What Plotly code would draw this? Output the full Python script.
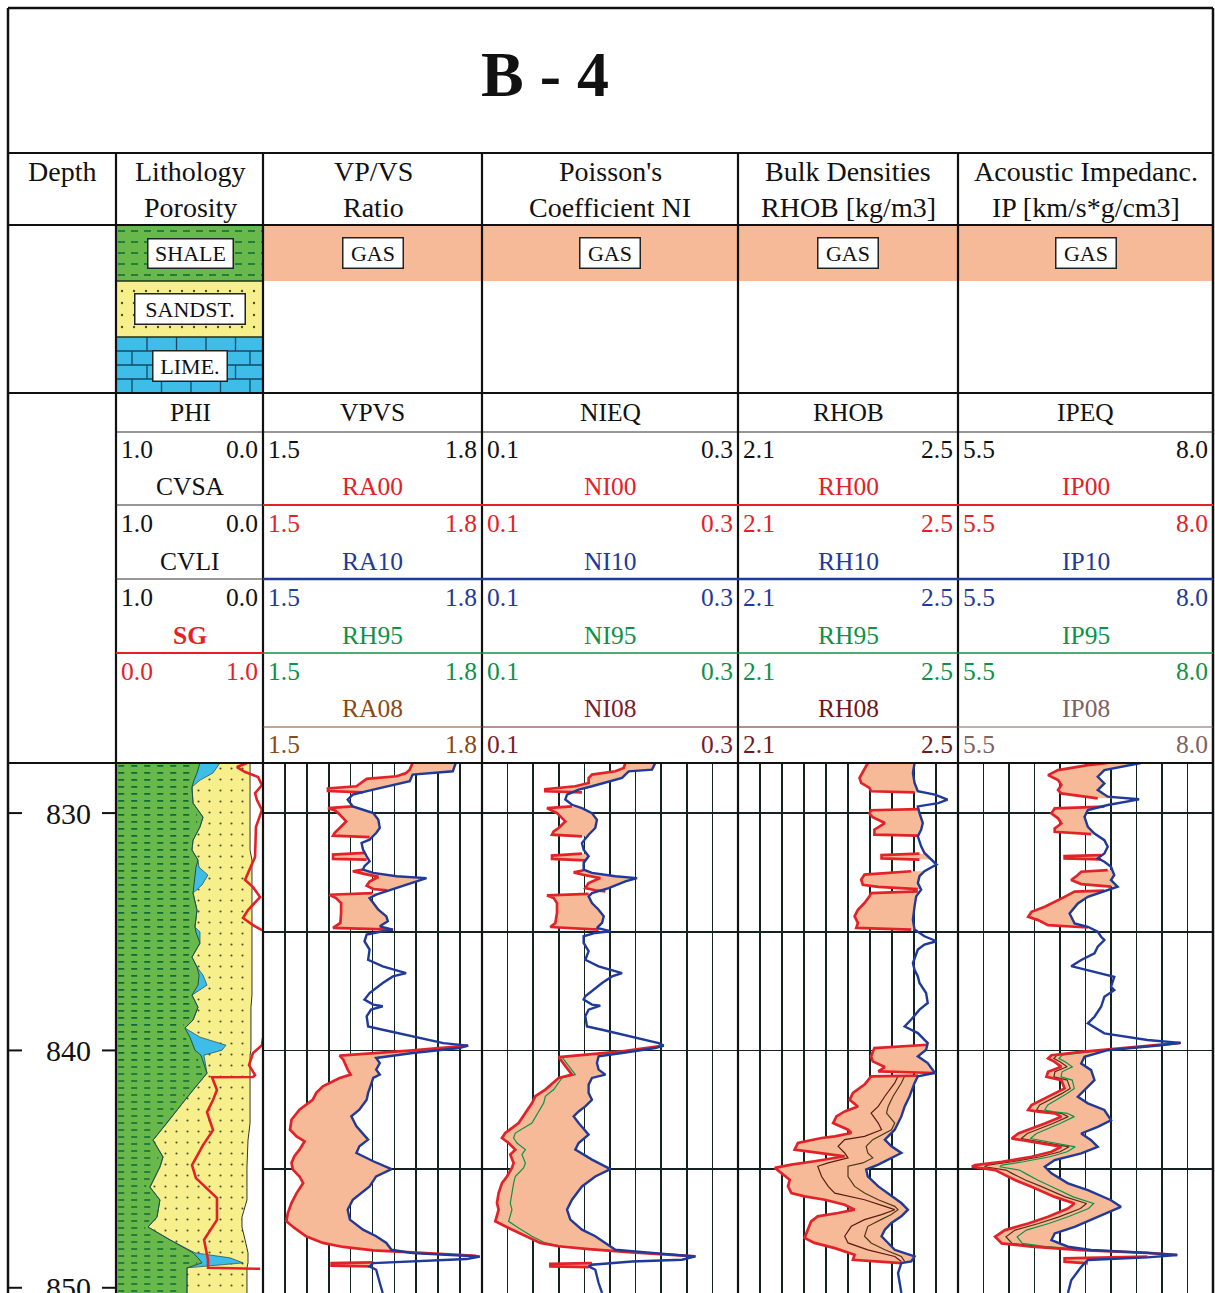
import numpy as np
import plotly.graph_objects as go

W, H = 1215, 1293
D_TOP, D_BOT = 827.89, 850.22
SERIF = "Liberation Serif, Times New Roman, serif"

# ------------------------------------------------------------------ DATA
DEPTH_LABELS = [830, 840, 850]
GRID_DEPTHS = [830, 835, 840, 845]

# Lithology (volumes) ------------------------------------------------
LITH_DEPTH = [827.89, 828.31, 828.61, 828.90, 829.58, 830.17, 830.59, 831.14, 831.56, 831.98,
              832.28, 832.61, 833.03, 833.37, 834.09, 834.80, 835.01, 835.48, 836.07, 836.49,
              836.83, 837.25, 837.67, 838.18, 838.72, 839.06, 839.44, 839.78, 839.99, 840.20,
              840.96, 841.67, 842.09, 843.06, 843.78, 844.49, 844.91, 845.76, 846.30, 847.02,
              847.44, 847.98, 848.53, 848.74, 848.95, 849.16, 849.67, 850.22]
VSH = [0.571, 0.551, 0.531, 0.517, 0.524, 0.592, 0.571, 0.524, 0.517, 0.558,
       0.544, 0.537, 0.531, 0.524, 0.551, 0.537, 0.544, 0.571, 0.517, 0.551,
       0.565, 0.558, 0.517, 0.558, 0.524, 0.469, 0.503, 0.524, 0.537, 0.578,
       0.619, 0.524, 0.469, 0.347, 0.252, 0.320, 0.299, 0.231, 0.299, 0.279,
       0.218, 0.367, 0.524, 0.558, 0.585, 0.483, 0.483, 0.483]
VLI = [0.136, 0.109, 0.041, 0, 0, 0, 0, 0, 0, 0,
       0.020, 0.088, 0.054, 0, 0, 0, 0.027, 0, 0, 0,
       0.027, 0.061, 0, 0, 0, 0, 0.068, 0.224, 0.184, 0.020,
       0, 0, 0, 0, 0, 0, 0, 0, 0, 0,
       0, 0, 0.014, 0.218, 0.279, 0, 0, 0]
PHI = [0.088, 0.088, 0.088, 0.088, 0.088, 0.088, 0.088, 0.088, 0.088, 0.075,
       0.075, 0.075, 0.075, 0.075, 0.075, 0.075, 0.075, 0.075, 0.075, 0.075,
       0.075, 0.075, 0.075, 0.082, 0.082, 0.082, 0.082, 0.082, 0.082, 0.088,
       0.088, 0.088, 0.088, 0.088, 0.102, 0.109, 0.109, 0.109, 0.109, 0.143,
       0.143, 0.122, 0.102, 0.102, 0.102, 0.109, 0.109, 0.109]
SG_DEPTH = [827.89, 828.06, 828.27, 828.48, 828.82, 829.16, 829.45, 829.87, 830.59, 831.85,
            832.53, 832.82, 833.12, 833.54, 834.09, 834.42, 834.72, 834.93, None,
            839.48, 839.78, 840.11, 840.62, 841.04, 841.12, 841.13, 841.67, 842.09, 842.60,
            843.36, 843.99, 844.83, 845.38, 846.22, 847.14, 847.98, 848.82, 849.16, 849.20]
SG = [0.891, 0.823, 0.878, 0.966, 0.993, 0.946, 0.959, 0.993, 0.952, 0.946,
      0.898, 0.878, 0.932, 0.980, 0.898, 0.864, 0.932, 0.993, None,
      1.0, 0.993, 0.932, 0.905, 0.946, 0.932, 0.653, 0.687, 0.660, 0.619,
      0.660, 0.592, 0.517, 0.544, 0.687, 0.687, 0.599, 0.626, 0.626, 0.980]

# VP/VS ratio ---------------------------------------------------------
VPVS_D = [827.89, 828.24, 828.38, 828.66, 829.01, 829.22, 829.43, 829.72, 829.86, 830.00,
          830.28, 830.63, 830.84, 831.12, 831.26, 831.54, 831.82, 832.03, 832.24, 832.38,
          832.52, 832.66, 832.74, 832.88, 833.16, 833.44, 833.58, 833.79, 834.07, 834.35,
          834.56, 834.77, 834.91, 834.98, 835.12, 835.40, 835.75, 836.18, 836.46, 836.74,
          836.88, 837.16, 837.58, 837.86, 838.07, 838.14, 838.28, 838.56, 838.99, 839.13,
          839.41, 839.69, 839.80, 839.90, 840.11, 840.32, 840.53, 840.81, 841.02, 841.16,
          841.44, 841.79, 842.08, 842.50, 842.78, 843.20, 843.76, 844.04, 844.32, 844.67,
          845.00, 845.31, 845.73, 846.29, 846.71, 847.13, 847.55, 847.83, 848.11, 848.40,
          848.54, 848.61, 848.68, 848.79, 848.89, 848.96, 849.10, 849.24, 849.80, 850.22]
RA10 = [1.764, 1.760, 1.705, 1.701, 1.651, 1.623, 1.616, 1.623, 1.637, 1.651,
        1.658, 1.660, 1.655, 1.646, 1.635, 1.637, 1.642, 1.646, 1.639, 1.637,
        1.651, 1.683, 1.724, 1.710, 1.683, 1.655, 1.646, 1.651, 1.658, 1.669,
        1.671, 1.660, 1.678, 1.664, 1.642, 1.639, 1.646, 1.644, 1.664, 1.696,
        1.678, 1.664, 1.646, 1.639, 1.651, 1.664, 1.648, 1.642, 1.644, 1.664,
        1.705, 1.747, 1.781, 1.769, 1.705, 1.655, 1.660, 1.655, 1.660, 1.651,
        1.648, 1.644, 1.642, 1.632, 1.621, 1.628, 1.644, 1.632, 1.628, 1.651,
        1.676, 1.655, 1.646, 1.623, 1.616, 1.619, 1.637, 1.655, 1.669, 1.676,
        1.705, 1.747, 1.797, 1.779, 1.705, 1.651, 1.646, 1.655, 1.660, 1.664]
VPVS_GAS_D = [827.89, 828.17, 828.31, 828.45, 828.56, 828.73, 828.87, 828.96, 829.07, 829.13, None,
              829.72, 829.79, 829.88, 830.00, 830.35, 830.63, 830.84, 830.95, 831.01, None,
              831.68, 831.75, 831.93, 831.96, None,
              832.38, 832.45, 832.55, 832.69, 832.88, 833.06, 833.20, 833.26, None,
              833.37, 833.44, 833.58, 833.79, 834.21, 834.63, 834.84, 834.91, None,
              839.80, 840.00, 840.22, 840.39, 840.81, 841.02, 841.16, 841.51, 841.79, 842.08,
              842.50, 842.92, 843.34, 843.62, 843.83, 844.18, 844.46, 844.74, 845.02, 845.31,
              845.59, 846.01, 846.43, 846.85, 847.20, 847.48, 847.83, 848.11, 848.28, 848.42,
              848.51, 848.65, None,
              848.93, 848.96, 849.07, 849.10]
RA00 = [1.705, 1.701, 1.696, 1.683, 1.642, 1.635, 1.628, 1.589, 1.589, 1.637, None,
        1.623, 1.589, 1.598, 1.603, 1.614, 1.605, 1.598, 1.596, 1.646, None,
        1.640, 1.596, 1.596, 1.642, None,
        1.637, 1.623, 1.637, 1.658, 1.646, 1.642, 1.651, 1.670, None,
        1.650, 1.591, 1.600, 1.607, 1.607, 1.606, 1.596, 1.678, None,
        1.781, 1.705, 1.605, 1.610, 1.616, 1.620, 1.605, 1.582, 1.573, 1.568,
        1.550, 1.539, 1.537, 1.546, 1.557, 1.550, 1.543, 1.539, 1.541, 1.550,
        1.555, 1.546, 1.539, 1.534, 1.532, 1.543, 1.559, 1.582, 1.610, 1.651,
        1.705, 1.792, None,
        1.651, 1.594, 1.594, 1.646]

# Poisson's coefficient ------------------------------------------------
NI_D = [827.89, 828.17, 828.24, 828.52, 828.87, 829.01, 829.22, 829.43, 829.65, 829.79,
        830.00, 830.28, 830.63, 830.91, 831.26, 831.54, 831.82, 832.10, 832.38, 832.52,
        832.66, 832.74, 832.88, 833.16, 833.37, 833.51, 833.79, 834.07, 834.35, 834.63,
        834.84, 834.98, 835.05, 835.19, 835.47, 835.82, 836.18, 836.46, 836.74, 836.88,
        837.16, 837.72, 837.86, 838.07, 838.11, 838.28, 838.56, 838.99, 839.13, 839.41,
        839.69, 839.80, 839.90, 840.11, 840.25, 840.53, 840.81, 841.02, 841.16, 841.44,
        841.79, 842.08, 842.36, 842.57, 842.78, 843.06, 843.55, 843.90, 844.18, 844.60,
        845.00, 845.31, 845.73, 846.29, 846.71, 847.13, 847.55, 847.83, 848.18, 848.40,
        848.54, 848.68, 848.82, 848.89, 849.03, 849.10, 849.24, 849.80, 850.22]
NI10 = [0.2354, 0.2328, 0.2146, 0.2094, 0.1859, 0.1755, 0.1664, 0.1651, 0.1703, 0.1781,
        0.1859, 0.1898, 0.1885, 0.1833, 0.1781, 0.1794, 0.1833, 0.1794, 0.1794, 0.1859,
        0.2042, 0.2211, 0.2120, 0.1990, 0.1859, 0.1833, 0.1859, 0.1911, 0.1951, 0.1938,
        0.1898, 0.2003, 0.1885, 0.1794, 0.1794, 0.1833, 0.1807, 0.1911, 0.2094, 0.2016,
        0.1938, 0.1807, 0.1794, 0.1859, 0.1924, 0.1833, 0.1807, 0.1820, 0.1938, 0.2172,
        0.2380, 0.2419, 0.2354, 0.2094, 0.1911, 0.1898, 0.1911, 0.1964, 0.1859, 0.1833,
        0.1833, 0.1859, 0.1807, 0.1755, 0.1716, 0.1755, 0.1833, 0.1755, 0.1729, 0.1859,
        0.2003, 0.1885, 0.1781, 0.1703, 0.1664, 0.1690, 0.1781, 0.1885, 0.1977, 0.2042,
        0.2354, 0.2667, 0.2563, 0.2172, 0.1859, 0.1833, 0.1885, 0.1911, 0.1938]
NI_GAS_D = [827.89, 828.10, 828.24, 828.38, 828.52, 828.73, 828.87, 828.99, 829.08, 829.13, None,
            829.72, 829.79, 829.93, 830.00, 830.35, 830.63, 830.77, 830.91, 830.98, None,
            831.71, 831.79, 831.93, 831.99, None,
            832.41, 832.50, 832.59, 832.74, 832.95, 833.16, 833.25, 833.30, None,
            833.40, 833.47, 833.58, 833.79, 834.21, 834.63, 834.80, 834.91, None,
            839.80, 840.04, 840.28, 840.46, 840.81, 841.02, 841.16, 841.65, 841.93, 842.22,
            843.06, 843.48, 843.69, 843.90, 844.18, 844.39, 844.74, 844.95, 845.31, 845.59,
            846.01, 846.43, 846.71, 847.20, 847.48, 847.83, 848.11, 848.25, 848.37, 848.51,
            848.68, None,
            848.96, 848.99, 849.10, 849.13]
NI00 = [0.2120, 0.2107, 0.2042, 0.1859, 0.1833, 0.1833, 0.1729, 0.1495, 0.1495, 0.1781, None,
        0.1703, 0.1508, 0.1560, 0.1586, 0.1651, 0.1599, 0.1560, 0.1547, 0.1781, None,
        0.1781, 0.1547, 0.1547, 0.1807, None,
        0.1794, 0.1716, 0.1781, 0.1924, 0.1833, 0.1807, 0.1885, 0.1964, None,
        0.1833, 0.1508, 0.1560, 0.1586, 0.1586, 0.1573, 0.1534, 0.1911, None,
        0.2419, 0.2094, 0.1599, 0.1625, 0.1677, 0.1703, 0.1599, 0.1495, 0.1417, 0.1391,
        0.1286, 0.1182, 0.1156, 0.1208, 0.1260, 0.1221, 0.1247, 0.1234, 0.1195, 0.1156,
        0.1130, 0.1117, 0.1130, 0.1104, 0.1208, 0.1339, 0.1456, 0.1599, 0.1833, 0.2172,
        0.2667, None,
        0.1859, 0.1534, 0.1534, 0.1833]
NI95_D = [839.80, 840.04, 840.28, 840.46, 840.81, 841.02, 841.16, 841.65, 841.93, 842.22,
          843.06, 843.48, 843.69, 843.90, 844.18, 844.39, 844.74, 844.95, 845.31, 845.59,
          846.01, 846.43, 846.71, 847.20, 847.48, 847.83, 848.11, 848.25, 848.37, 848.51,
          848.68]
NI95 = [0.2419, 0.2094, 0.1625, 0.1651, 0.1703, 0.1729, 0.1625, 0.1560, 0.1495, 0.1482,
        0.1390, 0.1260, 0.1247, 0.1273, 0.1339, 0.1312, 0.1339, 0.1325, 0.1260, 0.1247,
        0.1234, 0.1221, 0.1234, 0.1208, 0.1286, 0.1390, 0.1495, 0.1625, 0.1846, 0.2172,
        0.2667]

# Bulk density --------------------------------------------------------
RH_D = [827.89, 828.31, 828.73, 829.08, 829.22, 829.43, 829.58, 829.72, 830.00, 830.42,
        830.70, 830.98, 831.40, 831.68, 832.17, 832.45, 832.66, 832.95, 833.23, 833.51,
        833.93, 834.49, 834.91, 835.19, 835.40, 835.54, 835.75, 836.32, 836.60, 836.88,
        837.16, 837.58, 838.00, 838.28, 838.70, 838.99, 839.27, 839.69, 839.97, 840.25,
        840.53, 840.95, 841.09, 841.37, 841.93, 842.36, 842.78, 843.34, 843.76, 844.04,
        844.32, 844.60, 844.81, 845.02, 845.31, 845.73, 846.15, 846.43, 846.71, 846.99,
        847.27, 847.55, 847.83, 848.11, 848.40, 848.54, 848.68, 848.89, 848.96, 849.38,
        850.22]
RH10 = [2.421, 2.418, 2.421, 2.427, 2.458, 2.481, 2.464, 2.427, 2.430, 2.436,
        2.433, 2.427, 2.433, 2.439, 2.461, 2.439, 2.430, 2.427, 2.433, 2.424,
        2.421, 2.418, 2.421, 2.439, 2.461, 2.439, 2.427, 2.418, 2.421, 2.427,
        2.430, 2.442, 2.445, 2.430, 2.415, 2.403, 2.427, 2.445, 2.442, 2.427,
        2.445, 2.458, 2.427, 2.421, 2.412, 2.403, 2.397, 2.385, 2.367, 2.379,
        2.397, 2.373, 2.355, 2.333, 2.336, 2.355, 2.379, 2.397, 2.409, 2.397,
        2.379, 2.367, 2.361, 2.373, 2.385, 2.403, 2.421, 2.415, 2.397, 2.391,
        2.397]
RH_GAS_D = [827.89, 828.17, 828.52, 828.73, 828.94, 829.08, 829.13, None,
            829.83, 829.88, 830.02, 830.17, 830.42, 830.70, 830.91, 830.95, None,
            831.71, 831.77, 831.91, 831.96, None,
            832.45, 832.59, 832.81, 833.02, 833.11, 833.20, None,
            833.30, 833.37, 833.51, 833.79, 834.07, 834.35, 834.63, 834.84, 834.91, None,
            839.76, 839.90, 840.25, 840.46, 840.70, 840.88, 840.95, None,
            841.06, 841.09, 841.44, 841.79, 842.08, 842.36, 842.57, 842.78, 843.06, 843.34,
            843.48, 843.62, 843.69, 843.90, 844.18, 844.32, 844.46, 844.67, 844.81, 844.95,
            845.16, 845.45, 845.73, 846.01, 846.15, 846.29, 846.50, 846.71, 846.85, 846.99,
            847.20, 847.55, 847.90, 848.11, 848.33, 848.61, 848.82, 848.96]
RH00 = [2.336, 2.330, 2.321, 2.324, 2.339, 2.342, 2.421, None,
        2.427, 2.342, 2.339, 2.345, 2.367, 2.348, 2.348, 2.427, None,
        2.430, 2.361, 2.361, 2.430, None,
        2.415, 2.330, 2.324, 2.327, 2.355, 2.427, None,
        2.427, 2.342, 2.339, 2.330, 2.318, 2.312, 2.318, 2.315, 2.415, None,
        2.445, 2.348, 2.342, 2.345, 2.367, 2.355, 2.458, None,
        2.427, 2.342, 2.330, 2.309, 2.303, 2.318, 2.294, 2.279, 2.273, 2.300,
        2.306, 2.276, 2.252, 2.209, 2.203, 2.252, 2.294, 2.239, 2.197, 2.167,
        2.179, 2.194, 2.191, 2.197, 2.221, 2.258, 2.294, 2.312, 2.282, 2.245,
        2.233, 2.227, 2.221, 2.239, 2.276, 2.312, 2.309, 2.397]
RH_IN_D = [841.08, 841.37, 841.93, 842.36, 842.64, 843.06, 843.34, 843.62, 843.76, 844.04,
           844.32, 844.53, 844.74, 844.88, 845.31, 845.73, 846.01, 846.29, 846.57, 846.71,
           846.92, 847.13, 847.41, 847.83, 848.11, 848.40, 848.68, 848.89]
RH08 = [2.391, 2.385, 2.367, 2.355, 2.342, 2.355, 2.361, 2.330, 2.294, 2.282,
        2.294, 2.300, 2.264, 2.245, 2.252, 2.264, 2.276, 2.330, 2.367, 2.385,
        2.361, 2.330, 2.306, 2.294, 2.300, 2.336, 2.385, 2.397]
RH95 = [2.403, 2.397, 2.382, 2.373, 2.370, 2.385, 2.379, 2.355, 2.345, 2.333,
        2.336, 2.345, 2.327, 2.300, 2.300, 2.312, 2.330, 2.355, 2.385, 2.391,
        2.378, 2.360, 2.336, 2.330, 2.342, 2.367, 2.397, 2.403]

# Acoustic impedance --------------------------------------------------
IP_D = [827.89, 828.19, 828.47, 828.75, 829.03, 829.31, 829.42, 829.66, 829.87, 830.16,
        830.58, 830.86, 831.14, 831.42, 831.70, 831.91, 832.05, 832.26, 832.61, 832.82,
        833.10, 833.25, 833.53, 833.81, 834.23, 834.65, 834.79, 835.00, 835.21, 835.35,
        835.63, 835.91, 836.19, 836.45, 836.62, 836.90, 837.32, 837.46, 837.74, 838.16,
        838.58, 838.86, 839.28, 839.56, 839.68, 839.78, 839.99, 840.27, 840.55, 840.83,
        841.25, 841.67, 841.95, 842.23, 842.51, 842.94, 843.22, 843.50, 843.78, 844.06,
        844.34, 844.62, 844.90, 845.18, 845.60, 845.89, 846.31, 846.59, 847.01, 847.43,
        847.71, 847.99, 848.27, 848.41, 848.53, 848.62, 848.72, 848.83, 849.12, 849.68,
        850.22]
IP10 = [7.292, 6.935, 6.870, 6.935, 6.870, 6.968, 7.276, 6.968, 6.773, 6.740,
        6.773, 6.838, 6.935, 6.968, 6.935, 6.870, 6.935, 7.000, 7.032, 7.000,
        7.065, 6.968, 6.773, 6.675, 6.594, 6.643, 6.773, 6.870, 6.903, 6.935,
        6.870, 6.838, 6.708, 6.610, 6.773, 7.032, 7.000, 7.032, 6.935, 6.903,
        6.838, 6.773, 6.935, 7.357, 7.682, 7.487, 6.968, 6.740, 6.708, 6.805,
        6.838, 6.740, 6.675, 6.773, 6.935, 7.000, 6.870, 6.708, 6.805, 6.870,
        6.708, 6.448, 6.351, 6.416, 6.578, 6.773, 7.000, 7.097, 6.870, 6.643,
        6.448, 6.416, 6.578, 6.805, 7.357, 7.649, 7.357, 6.773, 6.708, 6.610,
        6.578]
IP_GAS_D = [827.89, 827.98, 828.19, 828.40, 828.61, 828.82, 829.03, 829.17, 829.38, None,
            829.73, 829.80, 830.01, 830.22, 830.44, 830.65, 830.79, 830.89, None,
            831.77, 831.81, 831.91, 831.95, None,
            832.40, 832.47, 832.61, 832.82, 832.99, 833.10, None,
            833.27, 833.31, 833.53, 833.74, 833.95, 834.16, 834.37, 834.51, 834.72, 834.79, 834.82, None,
            839.68, 839.85, 840.06, 840.20, 840.34, 840.48, 840.69, 840.90, 841.11, 841.25,
            841.60, 841.81, 842.30, 842.51, 842.58, 842.65, 842.79, 843.08, 843.50, 843.71,
            843.78, 843.92, 844.06, 844.27, 844.48, 844.69, 844.83, 844.90, 845.04, 845.18,
            845.46, 845.74, 846.17, 846.45, 846.66, 847.01, 847.29, 847.57, 847.85, 848.13,
            848.27, 848.41, 848.53, 848.62, None,
            848.69, 848.76, 848.90, 848.97]
IP00 = [6.968, 6.773, 6.481, 6.383, 6.481, 6.513, 6.481, 6.513, 6.870, None,
        6.935, 6.448, 6.416, 6.481, 6.513, 6.448, 6.448, 6.805, None,
        6.903, 6.545, 6.545, 6.903, None,
        6.968, 6.708, 6.675, 6.610, 6.708, 7.000, None,
        6.935, 6.643, 6.545, 6.448, 6.351, 6.221, 6.188, 6.286, 6.383, 6.643, 6.773, None,
        7.682, 7.227, 6.708, 6.416, 6.383, 6.448, 6.513, 6.383, 6.367, 6.513,
        6.545, 6.448, 6.221, 6.188, 6.286, 6.448, 6.513, 6.351, 6.091, 6.026,
        6.123, 6.351, 6.513, 6.416, 6.221, 5.929, 5.669, 5.636, 5.864, 5.929,
        6.058, 6.221, 6.448, 6.643, 6.578, 6.383, 6.188, 5.961, 5.864, 5.929,
        6.221, 6.708, 7.357, 7.649, None,
        7.357, 6.545, 6.545, 6.773]
IP_IN_D = [839.68, 839.85, 840.06, 840.20, 840.34, 840.48, 840.69, 840.90, 841.11, 841.25,
           841.60, 841.81, 842.30, 842.51, 842.58, 842.65, 842.79, 843.08, 843.50, 843.71,
           843.78, 843.92, 844.06, 844.27, 844.48, 844.69, 844.83, 844.90, 845.04, 845.18,
           845.46, 845.74, 846.17, 846.45, 846.66, 847.01, 847.29, 847.57, 847.85, 848.13,
           848.27, 848.41, 848.53, 848.62]
IP08 = [7.682, 7.25, 6.75, 6.47, 6.44, 6.50, 6.57, 6.45, 6.44, 6.57,
        6.60, 6.52, 6.30, 6.27, 6.36, 6.51, 6.58, 6.43, 6.18, 6.12,
        6.21, 6.43, 6.59, 6.50, 6.31, 6.03, 5.79, 5.76, 5.97, 6.03,
        6.16, 6.32, 6.55, 6.76, 6.70, 6.49, 6.29, 6.06, 5.97, 6.03,
        6.30, 6.75, 7.357, 7.649]
IP95 = [7.682, 7.27, 6.78, 6.52, 6.49, 6.55, 6.62, 6.52, 6.51, 6.62,
        6.64, 6.57, 6.38, 6.35, 6.43, 6.57, 6.64, 6.50, 6.27, 6.21,
        6.30, 6.50, 6.65, 6.57, 6.40, 6.14, 5.93, 5.91, 6.10, 6.16,
        6.28, 6.42, 6.63, 6.83, 6.78, 6.58, 6.39, 6.17, 6.08, 6.13,
        6.38, 6.78, 7.357, 7.649]

# ------------------------------------------------------------------ STYLE
RED = "#E32228"
BLUE = "#1F3A9A"
GREEN = "#0E9246"
ORANGE = "#F7BA98"
SHALE_GREEN = "#68B84C"
DASH_GREEN = "#0E6B34"
SAND_YELLOW = "#F6EF8C"
LIME_BLUE = "#3DBDE8"
INK = "#111111"
GRID = "#142222"

COLS = [8, 116, 263, 482, 738, 958, 1213]
PLOT_TOP = 763


def PX(x):
    return x / W


def PY(y):
    return 1 - y / H


TRACKS = [
    dict(xa="x4", x0=263, x1=482, rng=(1.5, 1.8), group="VPVS", nums=("1.5", "1.8"),
         names=["RA00", "RA10", "RH95", "RA08"], c08="#8A4A16",
         blue=(VPVS_D, RA10), red=(VPVS_GAS_D, RA00), inner=[]),
    dict(xa="x5", x0=482, x1=738, rng=(0.1, 0.3), group="NIEQ", nums=("0.1", "0.3"),
         names=["NI00", "NI10", "NI95", "NI08"], c08="#7A1C2C",
         blue=(NI_D, NI10), red=(NI_GAS_D, NI00), inner=[(NI95_D, NI95, GREEN)]),
    dict(xa="x6", x0=738, x1=958, rng=(2.1, 2.5), group="RHOB", nums=("2.1", "2.5"),
         names=["RH00", "RH10", "RH95", "RH08"], c08="#6E1A1A",
         blue=(RH_D, RH10), red=(RH_GAS_D, RH00),
         inner=[(RH_IN_D, RH08, "#5C1A14"), (RH_IN_D, RH95, "#4A3A18")]),
    dict(xa="x7", x0=958, x1=1213, rng=(5.5, 8.0), group="IPEQ", nums=("5.5", "8.0"),
         names=["IP00", "IP10", "IP95", "IP08"], c08="#806262",
         blue=(IP_D, IP10), red=(IP_GAS_D, IP00),
         inner=[(IP_IN_D, IP08, "#5A2A1A"), (IP_IN_D, IP95, GREEN)]),
]


def segments(d, v):
    out, cd, cv = [], [], []
    for a, b in zip(d, v):
        if a is None or b is None:
            if cd:
                out.append((cd, cv))
            cd, cv = [], []
        else:
            cd.append(a)
            cv.append(b)
    if cd:
        out.append((cd, cv))
    return out


def gas_polygons(gd, gv, bd, bv):
    bd = np.asarray(bd, float)
    bv = np.asarray(bv, float)
    xs, ys = [], []
    for sd, sv in segments(gd, gv):
        d0, d1 = sd[0], sd[-1]
        m = (bd > d0) & (bd < d1)
        dd = [d0] + list(bd[m]) + [d1]
        vv = [float(np.interp(d0, bd, bv))] + list(bv[m]) + [float(np.interp(d1, bd, bv))]
        xs += list(sv) + vv[::-1] + [None]
        ys += list(sd) + dd[::-1] + [None]
    return xs, ys


fig = go.Figure()

# ------------------------------------------------------------ lithology track
ld = np.asarray(LITH_DEPTH, float)
n = min(len(ld), len(VSH), len(VLI), len(PHI))
ld = ld[:n]
e1 = 1 - np.asarray(VSH[:n], float)
e2 = e1 - np.asarray(VLI[:n], float)
phi = np.asarray(PHI[:n], float)
rev = slice(None, None, -1)

fig.add_trace(go.Scatter(x=[1.0] * n + list(e1[rev]), y=list(ld) + list(ld[rev]),
                         xaxis="x2", yaxis="y", mode="lines", fill="toself",
                         fillcolor=SHALE_GREEN, line=dict(width=0), hoverinfo="skip"))
rows = np.arange(D_TOP + 0.12, D_BOT, 0.295)
edge_rows = np.interp(rows, ld, e1)
dx, dy = [], []
for r, e in zip(rows, edge_rows):
    if e + 0.03 < 1.0:
        dx += [0.985, e + 0.03, None]
        dy += [r, r, None]
fig.add_trace(go.Scatter(x=dx, y=dy, xaxis="x2", yaxis="y", mode="lines",
                         line=dict(color=DASH_GREEN, width=1.6, dash="6px,7px"), hoverinfo="skip"))
fig.add_trace(go.Scatter(x=list(e1) + list(e2[rev]), y=list(ld) + list(ld[rev]),
                         xaxis="x2", yaxis="y", mode="lines", fill="toself",
                         fillcolor=LIME_BLUE, line=dict(width=0), hoverinfo="skip"))
fig.add_trace(go.Scatter(x=list(e2) + list(phi[rev]), y=list(ld) + list(ld[rev]),
                         xaxis="x2", yaxis="y", mode="lines", fill="toself",
                         fillcolor=SAND_YELLOW,
                         fillpattern=dict(shape=".", bgcolor=SAND_YELLOW, fgcolor="#4a4a30",
                                          size=11, solidity=0.03),
                         line=dict(width=0), hoverinfo="skip"))
fig.add_trace(go.Scatter(x=e1, y=ld, xaxis="x2", yaxis="y", mode="lines",
                         line=dict(color="#1f4f3a", width=1), hoverinfo="skip"))
fig.add_trace(go.Scatter(x=e2, y=ld, xaxis="x2", yaxis="y", mode="lines",
                         line=dict(color="#1f4f5a", width=0.8), hoverinfo="skip"))
fig.add_trace(go.Scatter(x=phi, y=ld, xaxis="x2", yaxis="y", mode="lines",
                         line=dict(color="#333333", width=1), hoverinfo="skip"))
fig.add_trace(go.Scatter(x=SG, y=SG_DEPTH, xaxis="x3", yaxis="y", mode="lines",
                         line=dict(color=RED, width=2.6), connectgaps=False, hoverinfo="skip"))

# ------------------------------------------------------------ elastic tracks
for t in TRACKS:
    bd, bv = t["blue"]
    gd, gv = t["red"]
    gx, gy = gas_polygons(gd, gv, bd, bv)
    fig.add_trace(go.Scatter(x=gx, y=gy, xaxis=t["xa"], yaxis="y2", mode="lines",
                             fill="toself", fillcolor=ORANGE, line=dict(width=0),
                             hoverinfo="skip"))
    for idd, iv, col in t["inner"]:
        fig.add_trace(go.Scatter(x=iv, y=idd, xaxis=t["xa"], yaxis="y2", mode="lines",
                                 line=dict(color=col, width=1.2), hoverinfo="skip"))
    fig.add_trace(go.Scatter(x=gv, y=gd, xaxis=t["xa"], yaxis="y2", mode="lines",
                             line=dict(color=RED, width=2.7), connectgaps=False,
                             hoverinfo="skip"))
    fig.add_trace(go.Scatter(x=bv, y=bd, xaxis=t["xa"], yaxis="y2", mode="lines",
                             line=dict(color=BLUE, width=2.4), hoverinfo="skip"))

# ------------------------------------------------------------ lithology legend (px axes)
fig.add_trace(go.Scatter(x=[116, 263, 263, 116, 116], y=[225, 225, 281, 281, 225],
                         xaxis="x8", yaxis="y3", mode="lines", fill="toself",
                         fillcolor=SHALE_GREEN, line=dict(width=0), hoverinfo="skip"))
lx, ly = [], []
for yy in [231, 242, 253, 264, 275]:
    lx += [118, 262, None]
    ly += [yy, yy, None]
fig.add_trace(go.Scatter(x=lx, y=ly, xaxis="x8", yaxis="y3", mode="lines",
                         line=dict(color=DASH_GREEN, width=1.6, dash="7px,6px"), hoverinfo="skip"))
fig.add_trace(go.Scatter(x=[116, 263, 263, 116, 116], y=[281, 281, 337, 337, 281],
                         xaxis="x8", yaxis="y3", mode="lines", fill="toself",
                         fillcolor=SAND_YELLOW,
                         fillpattern=dict(shape=".", bgcolor=SAND_YELLOW, fgcolor="#4a4a30",
                                          size=12, solidity=0.03),
                         line=dict(width=0), hoverinfo="skip"))
fig.add_trace(go.Scatter(x=[116, 263, 263, 116, 116], y=[337, 337, 393, 393, 337],
                         xaxis="x8", yaxis="y3", mode="lines", fill="toself",
                         fillcolor=LIME_BLUE, line=dict(width=0), hoverinfo="skip"))
bx, by = [], []
for i, (y0, y1) in enumerate([(337, 351), (351, 365), (365, 379), (379, 393)]):
    if i:
        bx += [116, 263, None]
        by += [y0, y0, None]
    xx = 147.0 if i % 2 == 0 else 132.0
    while xx < 262:
        bx += [xx, xx, None]
        by += [y0, y1, None]
        xx += 29.5
fig.add_trace(go.Scatter(x=bx, y=by, xaxis="x8", yaxis="y3", mode="lines",
                         line=dict(color="#124a66", width=1.3), hoverinfo="skip"))
fig.add_trace(go.Scatter(x=[116, 263, None, 116, 263], y=[281, 281, None, 337, 337],
                         xaxis="x8", yaxis="y3", mode="lines",
                         line=dict(color="#203020", width=1.5), hoverinfo="skip"))

# ------------------------------------------------------------ axes
ydom = [0, PY(PLOT_TOP)]
hidden = dict(showgrid=False, zeroline=False, showticklabels=False, ticks="", showline=False)
layout = dict(
    width=W, height=H, autosize=False, margin=dict(l=0, r=0, t=0, b=0),
    paper_bgcolor="white", plot_bgcolor="rgba(0,0,0,0)", showlegend=False,
    template="none", hovermode=False,
    xaxis2=dict(domain=[PX(116), PX(263)], range=[1, 0], anchor="y", **hidden),
    xaxis3=dict(domain=[PX(116), PX(263)], range=[0, 1], anchor="y", overlaying="x2", **hidden),
    yaxis=dict(domain=ydom, range=[D_BOT, D_TOP], anchor="x2", **hidden),
    yaxis2=dict(domain=ydom, range=[D_BOT, D_TOP], anchor="x4", showgrid=True,
                tickvals=GRID_DEPTHS, gridcolor=GRID, gridwidth=1.6, zeroline=False,
                showticklabels=False, ticks="", showline=False),
    xaxis8=dict(domain=[PX(116), PX(263)], range=[116, 263], anchor="y3", **hidden),
    yaxis3=dict(domain=[PY(393), PY(225)], range=[393, 225], anchor="x8", **hidden),
)
for t in TRACKS:
    r0, r1 = t["rng"]
    layout["xaxis" + t["xa"][1:]] = dict(
        domain=[PX(t["x0"]), PX(t["x1"])], range=[r0, r1], anchor="y2",
        showgrid=True, dtick=(r1 - r0) / 10, tick0=r0, gridcolor=GRID, gridwidth=1.6,
        zeroline=False, showticklabels=False, ticks="", showline=False)
fig.update_layout(**layout)

# ------------------------------------------------------------ frame shapes
shapes = []


def hline(y, x0, x1, color=INK, width=2):
    shapes.append(dict(type="line", xref="paper", yref="paper", x0=PX(x0), x1=PX(x1),
                       y0=PY(y), y1=PY(y), line=dict(color=color, width=width), layer="above"))


def vline(x, y0, y1, color=INK, width=2):
    shapes.append(dict(type="line", xref="paper", yref="paper", x0=PX(x), x1=PX(x),
                       y0=PY(y0), y1=PY(y1), line=dict(color=color, width=width), layer="above"))


shapes.append(dict(type="rect", xref="paper", yref="paper", x0=PX(263), x1=PX(1213),
                   y0=PY(281), y1=PY(225), fillcolor=ORANGE, line=dict(width=0), layer="below"))
hline(8, 8, 1213, width=2.5)
vline(8, 8, H, width=2.5)
vline(1213, 8, H, width=2.5)
for yy in [153, 225, 393, PLOT_TOP]:
    hline(yy, 8, 1213, width=2)
hline(432, 116, 1213, width=1.2, color="#333333")
for xx in COLS[1:-1]:
    vline(xx, 153, H, width=2.2)

hline(505, 116, 263, color="#333333", width=1.2)
hline(579, 116, 263, color="#333333", width=1.2)
hline(653, 116, 263, color=RED, width=1.8)
for t in TRACKS:
    hline(505, t["x0"], t["x1"], color=RED, width=2)
    hline(579, t["x0"], t["x1"], color=BLUE, width=2.4)
    hline(653, t["x0"], t["x1"], color=GREEN, width=1.5)
    hline(727, t["x0"], t["x1"], color=t["c08"], width=1)

for d in DEPTH_LABELS:
    for x0, x1 in [(8, 22), (102, 116)]:
        shapes.append(dict(type="line", xref="paper", yref="y2", x0=PX(x0), x1=PX(x1),
                           y0=d, y1=d, line=dict(color=INK, width=2), layer="above"))
fig.update_layout(shapes=shapes)

# ------------------------------------------------------------ text
ann = []


def text(x, y, s, size=25, color=INK, xanchor="center", yref="paper", **kw):
    ann.append(dict(x=PX(x), y=(PY(y) if yref == "paper" else y), xref="paper", yref=yref,
                    text=s, showarrow=False, xanchor=xanchor, yanchor="middle",
                    font=dict(family=SERIF, size=size, color=color), **kw))


text(545, 75, "<b>B - 4</b>", size=64)
HEAD = [(62, ["Depth"]), (190, ["Lithology", "Porosity"]), (373, ["VP/VS", "Ratio"]),
        (610, ["Poisson's", "Coefficient NI"]), (848, ["Bulk Densities", "RHOB [kg/m3]"]),
        (1086, ["Acoustic Impedanc.", "IP [km/s*g/cm3]"])]
for x, lines in HEAD:
    for k, s in enumerate(lines):
        text(x, 171 + 36 * k, s, size=28)

box = dict(bgcolor="white", bordercolor="#222222", borderwidth=1.5, borderpad=2)
for t in TRACKS:
    text((t["x0"] + t["x1"]) / 2, 253, "GAS", size=22, width=55, height=25, **box)
text(190, 253, "SHALE", size=22, width=80, height=24, **box)
text(189.5, 309.5, "SANDST.", size=22, width=105, height=25, **box)
text(190, 366, "LIME.", size=22, width=69, height=25, **box)

NUM_Y = [449, 523, 597, 671, 744]
LAB_Y = [487, 561, 635, 708]
FS = 25.5

text(190, 413, "PHI", size=FS)
for k in range(3):
    text(119, NUM_Y[k], "1.0", xanchor="left", size=FS)
    text(260, NUM_Y[k], "0.0", xanchor="right", size=FS)
text(119, NUM_Y[3], "0.0", xanchor="left", color=RED, size=FS)
text(260, NUM_Y[3], "1.0", xanchor="right", color=RED, size=FS)
text(190, LAB_Y[0], "CVSA", size=FS)
text(190, LAB_Y[1], "CVLI", size=FS)
text(190, LAB_Y[2], "<b>SG</b>", color=RED, size=FS)

for t in TRACKS:
    cx = (t["x0"] + t["x1"]) / 2
    text(cx, 413, t["group"], size=FS)
    num_cols = [INK, RED, BLUE, GREEN, t["c08"]]
    lab_cols = [RED, BLUE, GREEN, t["c08"]]
    for k in range(5):
        text(t["x0"] + 3, NUM_Y[k], t["nums"][0], xanchor="left", color=num_cols[k], size=FS)
        text(t["x1"] - 3, NUM_Y[k], t["nums"][1], xanchor="right", color=num_cols[k], size=FS)
    for k in range(4):
        text(cx, LAB_Y[k], t["names"][k], color=lab_cols[k], size=FS)

for d in DEPTH_LABELS:
    text(68, d, str(d), size=30, yref="y2")

fig.update_layout(annotations=ann)
fig.write_html("out.html", config={"displayModeBar": False, "staticPlot": True},
               post_script="document.body.style.margin='0';document.body.style.overflow='hidden';")
